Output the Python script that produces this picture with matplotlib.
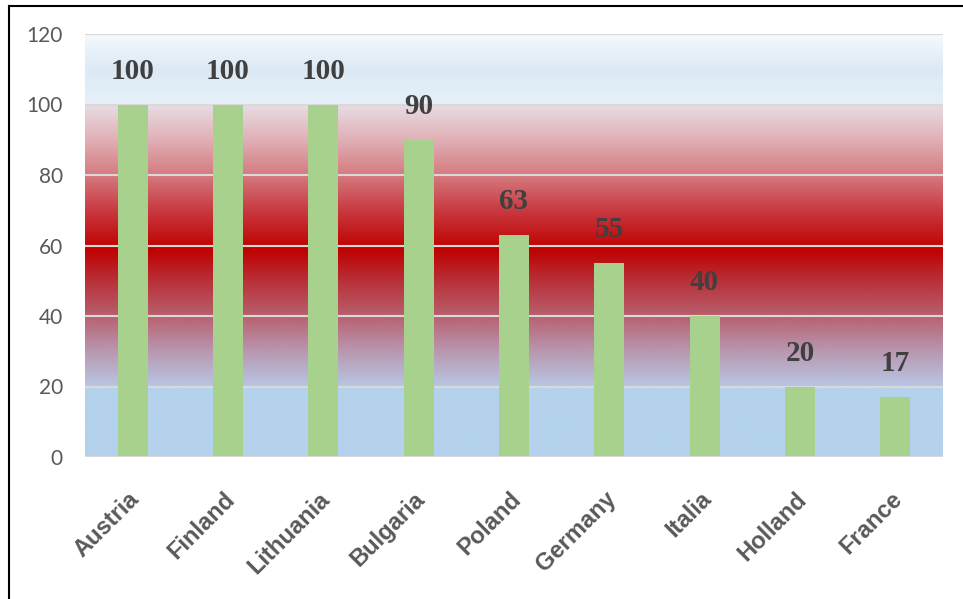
import numpy as np
import matplotlib
matplotlib.use("Agg")
import matplotlib.pyplot as plt
import matplotlib.transforms as mtransforms
from matplotlib.colors import to_rgb
from matplotlib.lines import Line2D

countries = ["Austria", "Finland", "Lithuania", "Bulgaria", "Poland",
             "Germany", "Italia", "Holland", "France"]
scores = [100, 100, 100, 90, 63, 55, 40, 20, 17]
y_ticks = [0, 20, 40, 60, 80, 100, 120]

# Background fill: colour stops along the value axis
bg_stops = [
    (0.0, "#b4d2ec"), (19.99, "#b4d2ec"), (20.0, "#b8c6e4"),
    (30.0, "#b898b0"), (40.0, "#b8606e"), (50.0, "#b83038"),
    (59.0, "#c00000"), (70.0, "#c83a40"), (80.0, "#d47a80"),
    (90.0, "#e0b0b5"), (99.99, "#e8dce4"), (100.0, "#e6f0f8"),
    (110.0, "#dce9f5"), (120.0, "#f5f9fc"),
]

fig = plt.figure(figsize=(9.63, 5.99), dpi=100)
ax = fig.add_axes([85 / 963, 1 - 457 / 599, 858 / 963, 423 / 599])

n = len(countries)
x = np.arange(n)
xmin, xmax = -0.5, n - 0.5

levels = np.linspace(0, 120, 1201)
sv = [s[0] for s in bg_stops]
cols = np.array([to_rgb(s[1]) for s in bg_stops])
grad = np.stack([np.interp(levels, sv, cols[:, k]) for k in range(3)], axis=-1)
ax.imshow(grad[:, None, :], extent=[xmin, xmax, 0, 120], origin="lower",
          aspect="auto", interpolation="bilinear", zorder=0)

for t in y_ticks[1:]:
    ax.axhline(t, color="#d9d9d9", linewidth=1.5, zorder=1)
ax.axhline(0, color="#d9d9d9", linewidth=1.5, zorder=3)

ax.bar(x, scores, width=0.315, color="#a9d18e", zorder=2)

for xi, v in zip(x, scores):
    ax.annotate(str(v), (xi, v), xytext=(0, 24), textcoords="offset points",
                ha="center", va="center", fontsize=21, fontweight="bold",
                family="Liberation Serif", color="#404040")

ax.set_xlim(xmin, xmax)
ax.set_ylim(0, 120)
ax.set_yticks(y_ticks)
ax.set_yticklabels([str(t) for t in y_ticks], family="Lato", fontsize=15,
                   color="#595959")
ax.set_xticks(x)
ax.set_xticklabels(countries, rotation=45, ha="right", va="top",
                   rotation_mode="anchor", family="Liberation Sans",
                   fontweight="bold", fontsize=17, color="#595959")
ax.tick_params(axis="y", length=0, pad=16)
ax.tick_params(axis="x", length=0, pad=22)
shift = mtransforms.ScaledTranslation(-5 / 100, 0, fig.dpi_scale_trans)
for lbl in ax.get_xticklabels():
    lbl.set_transform(lbl.get_transform() + shift)
for sp in ax.spines.values():
    sp.set_visible(False)

# Frame edges along the top and left of the figure
fig.add_artist(Line2D([9 / 963, 9 / 963], [0, 1 - 6 / 599], color="black",
                      linewidth=1.5, transform=fig.transFigure))
fig.add_artist(Line2D([9 / 963, 1], [1 - 6 / 599, 1 - 6 / 599], color="black",
                      linewidth=1.5, transform=fig.transFigure))

fig.savefig("out.png", dpi=100)
